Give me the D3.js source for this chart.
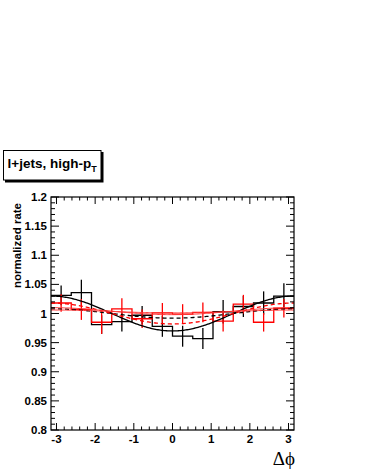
<!DOCTYPE html>
<html><head><meta charset="utf-8">
<script src="https://cdn.jsdelivr.net/npm/d3@7"></script>
<style>body{margin:0;background:#fff}svg{display:block}text{font-family:"Liberation Sans",Arial,sans-serif;font-weight:bold}</style>
</head><body><div id="c"></div>
<script>
const binEdgesCount = 12;
const blackValues = [1.031, 1.036, 0.981, 0.986, 0.997, 0.978, 0.961, 0.957, 1.003, 1.012, 1.018, 1.030];
const blackErrors = [0.017, 0.022, 0.016, 0.017, 0.016, 0.018, 0.018, 0.018, 0.020, 0.018, 0.020, 0.022];
const redValues   = [1.018, 1.007, 0.985, 1.008, 0.991, 1.001, 0.999, 1.002, 0.987, 1.016, 0.985, 1.009];
const redErrors   = [0.015, 0.018, 0.020, 0.018, 0.016, 0.017, 0.017, 0.017, 0.018, 0.016, 0.016, 0.016];
// fit curves: offset + amp*cos(dphi)
const fitNames   = ["blackSolid", "blackDashed", "redDashed", "redSolidA", "redSolidB"];
const fitOffsets = [1.000, 1.000, 1.000, 1.0035, 1.004];
const fitAmps    = [-0.030, -0.008, -0.018, -0.0025, -0.006];
const fitColors  = ["#000", "#000", "#f00", "#f33", "#f33"];
const fitWidths  = [1.3, 1.3, 1.3, 1, 1];
const fitDashed  = [false, true, true, false, false];
const yTicks = [0.8, 0.85, 0.9, 0.95, 1, 1.05, 1.1, 1.15, 1.2];
const yTickLabels = ["0.8", "0.85", "0.9", "0.95", "1", "1.05", "1.1", "1.15", "1.2"];
const xTicks = [-3, -2, -1, 0, 1, 2, 3];
const xTickLabels = ["-3", "-2", "-1", "0", "1", "2", "3"];

const W = 366, H = 473;
const L = 51, R = 294, T = 197, B = 430;
const svg = d3.select("#c").append("svg").attr("width", W).attr("height", H);
const x = d3.scaleLinear().domain([-Math.PI, Math.PI]).range([L, R]);
const y = d3.scaleLinear().domain([0.8, 1.2]).range([B, T]);
const bw = 2 * Math.PI / binEdgesCount;
const edge = i => -Math.PI + i * bw;

svg.append("clipPath").attr("id", "clip").append("rect").attr("x", L).attr("y", T).attr("width", R - L).attr("height", B - T);
const g = svg.append("g").attr("clip-path", "url(#clip)");

function stepPath(vals) {
  let p = "";
  vals.forEach((v, i) => {
    const x0 = x(edge(i)), x1 = x(edge(i + 1)), yy = y(v);
    p += (i === 0 ? "M" : "L") + x0 + "," + yy + "L" + x1 + "," + yy;
  });
  return p;
}
function drawHist(vals, errs, color) {
  g.append("path").attr("d", stepPath(vals)).attr("fill", "none").attr("stroke", color).attr("stroke-width", 1.3);
  g.selectAll(null).data(vals).enter().append("line")
    .attr("x1", (d, i) => x(edge(i) + bw / 2)).attr("x2", (d, i) => x(edge(i) + bw / 2))
    .attr("y1", (d, i) => y(d - errs[i])).attr("y2", (d, i) => y(d + errs[i]))
    .attr("stroke", color).attr("stroke-width", 1.3);
}
drawHist(blackValues, blackErrors, "#000");
drawHist(redValues, redErrors, "#f00");

const xs = d3.range(0, 201).map(i => -Math.PI + i * 2 * Math.PI / 200);
fitNames.forEach((n, k) => {
  const line = d3.line().x(d => x(d)).y(d => y(fitOffsets[k] + fitAmps[k] * Math.cos(d)));
  g.append("path").attr("d", line(xs)).attr("fill", "none").attr("stroke", fitColors[k])
    .attr("stroke-width", fitWidths[k]).attr("stroke-dasharray", fitDashed[k] ? "4,3" : null);
});

svg.append("rect").attr("x", L).attr("y", T).attr("width", R - L).attr("height", B - T)
  .attr("fill", "none").attr("stroke", "#000").attr("stroke-width", 1.2);

const ax = svg.append("g").attr("stroke", "#000").attr("stroke-width", 1);
const xAll = d3.range(-15, 16).map(v => v / 5).filter(v => Math.abs(v) <= Math.PI);
xAll.forEach(v => {
  const major = Math.abs(v - Math.round(v)) < 1e-6;
  const len = major ? 7 : 3.5;
  ax.append("line").attr("x1", x(v)).attr("x2", x(v)).attr("y1", B).attr("y2", B - len);
  ax.append("line").attr("x1", x(v)).attr("x2", x(v)).attr("y1", T).attr("y2", T + len);
});
d3.range(80, 121).forEach(k => {
  const v = k / 100;
  const major = k % 5 === 0;
  const len = major ? 8 : 4;
  ax.append("line").attr("x1", L).attr("x2", L + len).attr("y1", y(v)).attr("y2", y(v));
  ax.append("line").attr("x1", R).attr("x2", R - len).attr("y1", y(v)).attr("y2", y(v));
});

svg.selectAll(null).data(yTicks).enter().append("text")
  .attr("x", 47).attr("y", d => y(d) + 4).attr("text-anchor", "end").attr("font-size", 11.5)
  .text((d, i) => yTickLabels[i]);
svg.selectAll(null).data(xTicks).enter().append("text")
  .attr("x", d => x(d)).attr("y", 443).attr("text-anchor", "middle").attr("font-size", 11.5)
  .text((d, i) => xTickLabels[i]);

svg.append("text").attr("transform", "translate(21,203) rotate(-90)").attr("text-anchor", "end")
  .attr("font-size", 11.5).text("normalized rate");
svg.append("text").attr("x", 295).attr("y", 465).attr("text-anchor", "end")
  .style("font-family", "'Liberation Serif','Times New Roman',serif").style("font-weight", "normal")
  .attr("font-size", 19).text("Δϕ");

svg.append("rect").attr("x", 5).attr("y", 152).attr("width", 98.5).attr("height", 30.5).attr("fill", "#000");
svg.append("rect").attr("x", 3.5).attr("y", 150.5).attr("width", 97.5).attr("height", 29.5).attr("fill", "#fff").attr("stroke", "#000").attr("stroke-width", 1);
const t = svg.append("text").attr("x", 7.5).attr("y", 168).attr("font-size", 13.5);
t.append("tspan").text("l+jets, high-p");
t.append("tspan").attr("dy", 4).attr("font-size", 9).text("T");
</script></body></html>
